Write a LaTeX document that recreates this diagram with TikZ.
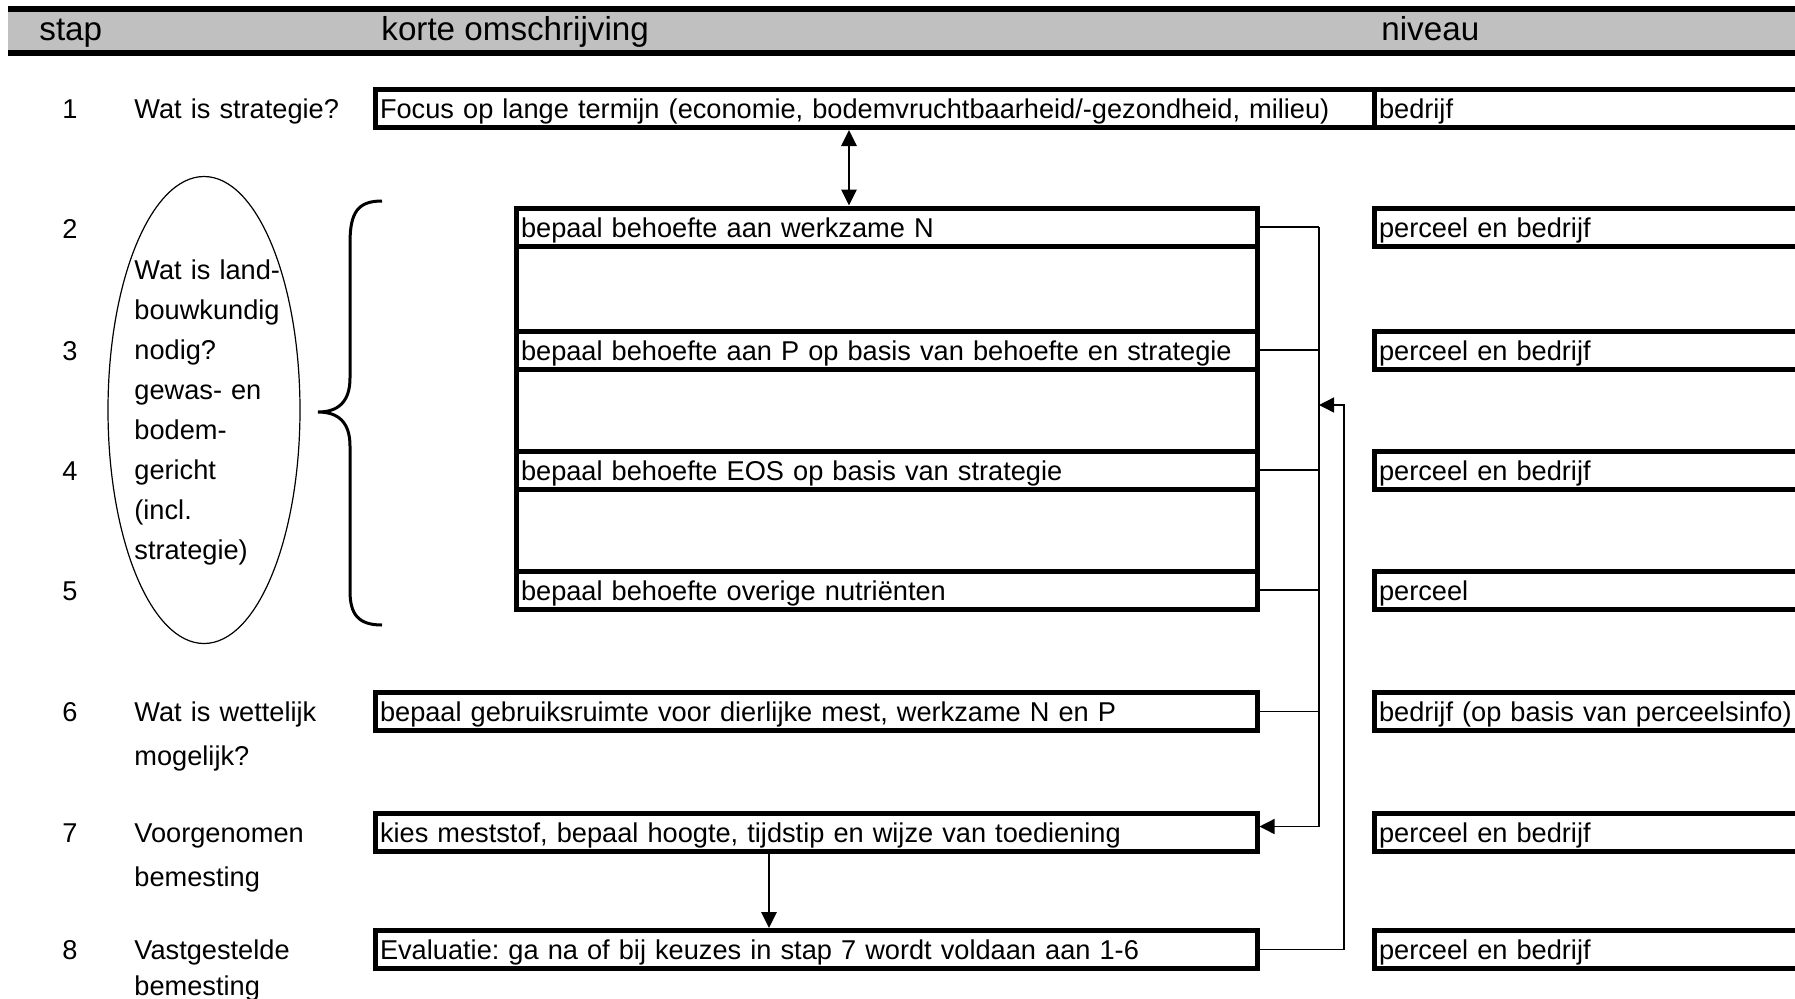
\documentclass[tikz,border=0pt]{standalone}
\usepackage{fontspec}
\setmainfont{Liberation Sans}
\usetikzlibrary{arrows.meta,positioning,shapes.geometric}

\definecolor{kopgrijs}{RGB}{192,192,192}
\newcommand{\tekstfont}{\fontsize{13.6}{20}\selectfont}
\frenchspacing

\tikzstyle{kop}=[font=\fontsize{16.6}{20}\selectfont, anchor=base west, inner sep=0pt]
\tikzstyle{txt}=[font=\tekstfont, anchor=base west, inner sep=0pt, align=left, text width=160pt]
\tikzstyle{nr}=[font=\tekstfont, anchor=base, inner sep=0pt]
\tikzstyle{vak}=[draw, line width=2.5pt, anchor=north west, inner xsep=2.5pt, inner ysep=0pt, outer sep=0pt, minimum height=19pt, text height=12pt, text depth=2pt, align=left, font=\tekstfont]
\tikzstyle{lang}=[vak, text width=494.5pt]
\tikzstyle{breed}=[vak, text width=436pt]
\tikzstyle{smal}=[vak, text width=365.5pt]
\tikzstyle{niv}=[vak, text width=223pt]
\tikzstyle{dun}=[draw, line width=0.7pt]
\tikzstyle{dik}=[draw, line width=1.4pt]

\begin{document}
\begin{tikzpicture}[x=0.5pt, y=-0.5pt]
    \useasboundingbox (0,0) rectangle (1795,998);
    \clip (0,0) rectangle (1795,998);
    % header bar
    \fill[kopgrijs] (8,12) rectangle (1800,50);
    \draw[line width=3pt] (8,9) -- (1800,9);
    \draw[line width=3pt] (8,53) -- (1800,53);
    \node[kop] (hstap) at (39,40) {stap};
    \node[kop] (homs) at (381,40) {korte omschrijving};
    \node[kop] (hniv) at (1381,40) {niveau};

    % step numbers
    \foreach \i/\y in {1/118.5, 2/238, 3/360, 4/480, 5/600, 6/721.5, 7/842.5, 8/959.5}
        \node[nr] (nr\i) at (70,\y) {\i};

    % step questions
    \node[txt] (vr1) at (134,118.5) {Wat is strategie?};
    \node[txt] (vr6) at (134,721.5) {Wat is wettelijk\\[1.75pt]mogelijk?};
    \node[txt] (vr7) at (134,842.5) {Voorgenomen\\[1.75pt]bemesting};
    \node[txt] (vr8) at (134,959.5) {Vastgestelde\\[-2.25pt]bemesting};

    % ellipse with its text and the brace
    \node[ellipse, draw, line width=0.6pt, minimum width=96pt, minimum height=233.5pt, inner sep=0pt] (ovaal) at (204,410) {};
    \node[txt, text width=90pt] (ovtxt) at (134,279) {Wat is land-\\bouwkundig\\nodig?\\gewas- en\\bodem-\\gericht\\(incl.\\strategie)};
    \draw[line width=1.5pt] (382,201) .. controls (358,201) and (350,212) .. (350,243)
        -- (350,378) .. controls (350,402) and (338,412) .. (318,412)
        .. controls (338,412) and (350,422) .. (350,446)
        -- (350,591) .. controls (350,614) and (358,625) .. (382,625);

    % boxes
    \node[lang] (n1) at (375,89.5) {Focus op lange termijn (economie, bodemvruchtbaarheid/-gezondheid, milieu)};
    \node[smal] (n2) at (516,208) {bepaal behoefte aan werkzame N};
    \node[smal, below=0pt of n2, minimum height=42.5pt] (g23) {};
    \node[smal, below=0pt of g23] (n3) {bepaal behoefte aan P op basis van behoefte en strategie};
    \node[smal, below=0pt of n3, minimum height=41pt] (g34) {};
    \node[smal, below=0pt of g34] (n4) {bepaal behoefte EOS op basis van strategie};
    \node[smal, below=0pt of n4, minimum height=41pt] (g45) {};
    \node[smal, below=0pt of g45] (n5) {bepaal behoefte overige nutri\"enten};
    \node[breed] (n6) at (375,692.5) {bepaal gebruiksruimte voor dierlijke mest, werkzame N en P};
    \node[breed] (n7) at (375,813.5) {kies meststof, bepaal hoogte, tijdstip en wijze van toediening};
    \node[breed] (n8) at (375,930.5) {Evaluatie: ga na of bij keuzes in stap 7 wordt voldaan aan 1-6};

    % level boxes
    \foreach \r/\y/\t in {1/89.5/bedrijf, 2/208/perceel en bedrijf, 3/331/perceel en bedrijf, 4/451/perceel en bedrijf, 5/571/perceel, 6/692.5/bedrijf (op basis van perceelsinfo), 7/813.5/perceel en bedrijf, 8/930.5/perceel en bedrijf}
        \node[niv] (niv\r) at (1374,\y) {\t};

    % arrows
    \coordinate (s12) at (849,0);
    \coordinate (s78) at (769,0);
    \coordinate (bus) at (1319,0);
    \coordinate (terug) at (1344,405);
    \path[dik, {Triangle[width=7.5pt,length=8pt]}-{Triangle[width=7.5pt,length=8pt]}] ([yshift=-1.25pt]n1.south -| s12) -- ([yshift=1.25pt]n2.north -| s12);
    \path[dik, -{Triangle[width=7.5pt,length=8pt]}] ([yshift=-1.25pt]n7.south -| s78) -- ([yshift=1.25pt]n8.north -| s78);
    \foreach \n in {n2,n3,n4,n5,n6}
        \path[dun] ([xshift=1.25pt]\n.east) -- (\n.east -| bus);
    \path[dun, -{Triangle[width=7.5pt,length=7.5pt]}] (n2.east -| bus) -- ([yshift=3pt]n7.east -| bus) -- ([xshift=1.25pt,yshift=3pt]n7.east);
    \path[dun, -{Triangle[width=7.5pt,length=7.5pt]}] ([xshift=1.25pt]n8.east) -- (n8.east -| terug) -- (terug) -- (terug -| bus);
\end{tikzpicture}
\end{document}
